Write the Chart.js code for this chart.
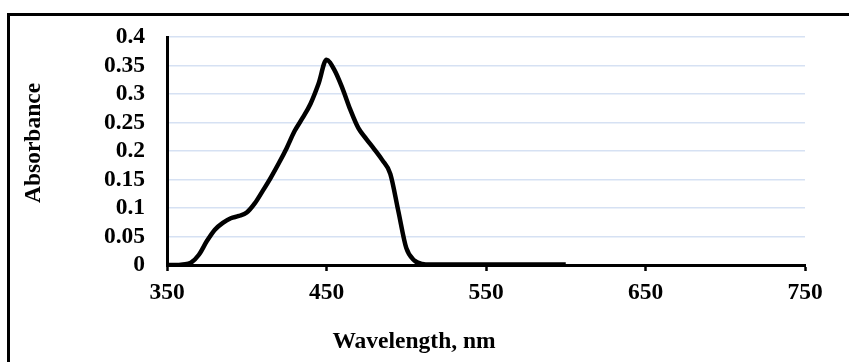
<!DOCTYPE html>
<html>
<head>
<meta charset="utf-8">
<script src="https://cdn.jsdelivr.net/npm/chart.js@4/dist/chart.umd.min.js"></script>
<style>
  html, body { margin: 0; padding: 0; background: #fff; overflow: hidden; }
  #frame { position: absolute; left: 7px; top: 13px; width: 1000px; height: 1000px; border: 3px solid #000; }
  #wrap { position: absolute; left: 0; top: 0; width: 849px; height: 362px; }
</style>
</head>
<body>
<div id="frame"></div>
<div id="wrap"><canvas id="chart" width="849" height="362"></canvas></div>
<script>
const wavelengths = [350, 355, 360, 365, 370, 375, 380, 385, 390, 395, 400, 405, 410, 415, 420, 425, 430, 435, 440, 445,
    450, 455, 460, 465, 470, 475, 480, 485, 490, 495, 500, 505, 510, 515, 520, 530, 540, 550, 560, 570, 580, 590, 600];
const absorbance = [0, 0, 0.001, 0.004, 0.018, 0.042, 0.062, 0.074, 0.082, 0.086, 0.092, 0.108, 0.13, 0.153, 0.178, 0.205, 0.235, 0.258, 0.283, 0.318,
    0.36, 0.342, 0.31, 0.272, 0.24, 0.221, 0.203, 0.184, 0.16, 0.095, 0.03, 0.008, 0.002, 0.001, 0.001, 0.001, 0.001, 0.001, 0.001, 0.001, 0.001, 0.001, 0.001];
const xTicks = [350, 450, 550, 650, 750];
const yTicks = [0, 0.05, 0.1, 0.15, 0.2, 0.25, 0.3, 0.35, 0.4];
const xTitle = 'Wavelength, nm';
const yTitle = 'Absorbance';

const FONT = "'Liberation Serif', 'Times New Roman', serif";
const SIZE = 23.5;

// axis titles sit centred on the whole chart box (like Excel), not on the plot area
const axisTitles = {
    id: 'axisTitles',
    afterDraw(chart) {
        const ctx = chart.ctx;
        ctx.save();
        ctx.fillStyle = '#000';
        ctx.font = `bold ${SIZE}px ${FONT}`;
        ctx.textAlign = 'center';
        ctx.textBaseline = 'middle';
        ctx.fillText(xTitle, 414, 342);
        ctx.translate(34, 143);
        ctx.rotate(-Math.PI / 2);
        ctx.fillText(yTitle, 0, 0);
        ctx.restore();
    }
};

new Chart(document.getElementById('chart'), {
    type: 'line',
    data: {
        datasets: [{
            data: wavelengths.map((w, i) => ({ x: w, y: absorbance[i] })),
            borderColor: '#000',
            borderWidth: 4.5,
            pointRadius: 0,
            cubicInterpolationMode: 'monotone',
            fill: false
        }]
    },
    options: {
        responsive: false,
        animation: false,
        layout: { padding: { left: 0, right: 44, top: 37, bottom: 0 } },
        plugins: { legend: { display: false }, tooltip: { enabled: false } },
        scales: {
            x: {
                type: 'linear',
                min: 350, max: 750,
                afterBuildTicks: s => { s.ticks = xTicks.map(v => ({ value: v })); },
                afterFit: s => { s.height = 97; },
                grid: { drawOnChartArea: false, drawTicks: true, tickLength: 6, tickWidth: 2.5, tickColor: '#000' },
                border: { color: '#000', width: 3 },
                ticks: { color: '#000', font: { family: FONT, size: SIZE, weight: 'bold' }, padding: 8, maxRotation: 0, autoSkip: false }
            },
            y: {
                min: 0, max: 0.4,
                afterBuildTicks: s => { s.ticks = yTicks.map(v => ({ value: v })); },
                afterFit: s => { s.width = 167; },
                grid: { color: '#d6e1f3', lineWidth: 1.4, drawTicks: false },
                border: { color: '#000', width: 3 },
                ticks: {
                    color: '#000', padding: 22, autoSkip: false,
                    font: { family: FONT, size: SIZE, weight: 'bold' },
                    callback: v => String(+Number(v).toFixed(2))
                }
            }
        }
    },
    plugins: [axisTitles]
});
</script>
</body>
</html>
